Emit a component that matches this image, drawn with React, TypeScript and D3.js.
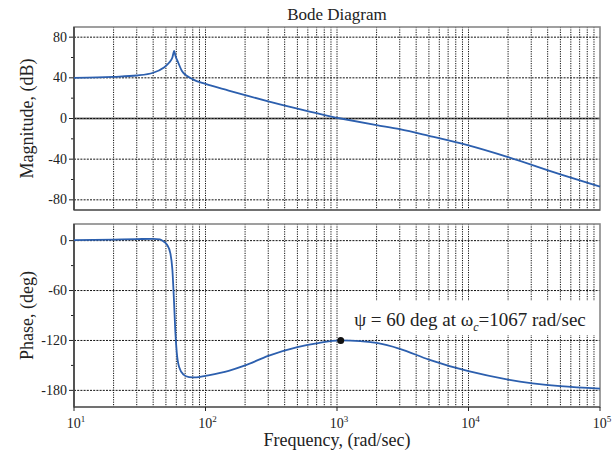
import React from 'react';
import * as d3 from 'd3';

// magnitude curve
const magFreq = [10, 15, 20, 30, 40, 48, 53, 56, 57.8, 59, 62, 66, 72, 80, 100, 150, 200, 300, 500, 700, 1000, 1067, 2000, 3000, 5000, 10000, 20000, 50000, 100000];
const magDb = [40, 40.4, 41, 42.3, 45, 50, 55, 60, 66.5, 62, 55, 47, 42, 38.5, 34, 27.5, 23, 16.8, 9.6, 5.3, 0.7, 0, -6.5, -10.5, -17, -26.5, -38, -55, -67];

// phase curve
const phaseFreq = [10, 20, 30, 40, 45, 48, 51, 54, 56, 57.5, 59, 60.5, 63, 68, 75, 85, 100, 150, 200, 300, 500, 700, 1067, 1500, 2000, 3000, 5000, 10000, 20000, 50000, 100000];
const phaseDeg = [0.5, 1.2, 1.8, 2.2, 1.5, -1, -5, -15, -35, -70, -110, -135, -152, -161, -164, -164.5, -162.5, -156.5, -150, -138.5, -128, -123.5, -120, -120.7, -123, -130, -143, -157, -167, -175, -178];

const magTicks = [80, 40, 0, -40, -80];
const magMinor = [60, 20, -20, -60];
const phaseTicks = [0, -60, -120, -180];
const phaseMinor = [-30, -90, -150];
const decadeExp = [1, 2, 3, 4, 5];

const crossFreq = 1067;
const crossPhase = -120;

const W = 616, H = 452;
const left = 74, right = 600;
const magTop = 27, magBottom = 210;
const phTop = 224, phBottom = 407;
const font = '"Liberation Serif", "Times New Roman", serif';
const blue = '#2c5fae';

const App = () => {
  const x = d3.scaleLog().domain([10, 1e5]).range([left, right]);
  const yMag = d3.scaleLinear().domain([-90, 90]).range([magBottom, magTop]);
  const yPh = d3.scaleLinear().domain([-200, 20]).range([phBottom, phTop]);

  const gridX: number[] = [];
  for (let k = 1; k <= 4; k++) {
    for (let m = 1; m <= 9; m++) {
      const f = m * Math.pow(10, k);
      if (f > 10) gridX.push(f);
    }
  }

  const magLine = d3.line<number>()
    .x((_, i) => x(magFreq[i]))
    .y(d => yMag(d))
    .curve(d3.curveMonotoneX);
  const phLine = d3.line<number>()
    .x((_, i) => x(phaseFreq[i]))
    .y(d => yPh(d))
    .curve(d3.curveMonotoneX);

  const txt = { fontFamily: font, fill: '#222' };

  const panel = (top: number, bottom: number, y: any, ticks: number[], minor: number[], zeroSolid: boolean) => (
    <g>
      {gridX.map(f => (
        <line key={'v' + f} x1={x(f)} x2={x(f)} y1={top} y2={bottom}
          stroke="#111" strokeWidth={1} strokeDasharray="1.2,1.2" />
      ))}
      {zeroSolid && <line x1={left} x2={right} y1={y(0)} y2={y(0)} stroke="#777" strokeWidth={1.8} />}
      {ticks.map(t => (
        <line key={'h' + t} x1={left} x2={right} y1={y(t)} y2={y(t)}
          stroke="#111" strokeWidth={1} strokeDasharray="2,1.2" />
      ))}
      {ticks.map(t => (
        <g key={'t' + t}>
          <line x1={left - 5} x2={left} y1={y(t)} y2={y(t)} stroke="#222" />
          <text x={left - 7} y={y(t) + 4.5} textAnchor="end" fontSize={14} style={txt}>{t}</text>
        </g>
      ))}
      {minor.map(t => (
        <line key={'m' + t} x1={left - 3} x2={left} y1={y(t)} y2={y(t)} stroke="#222" />
      ))}
      <rect x={left} y={top} width={right - left} height={bottom - top} fill="none" stroke="#888" strokeWidth={1.6} />
      <line x1={left} x2={left} y1={top} y2={bottom} stroke="#222" strokeWidth={1.2} />
      <line x1={left} x2={right} y1={bottom} y2={bottom} stroke="#444" strokeWidth={1.2} />
    </g>
  );

  return (
    <svg width={W} height={H} style={{ position: 'absolute', left: 0, top: 0, background: '#fff' }}>
      <rect width={W} height={H} fill="#fff" />
      <text x={337} y={20} textAnchor="middle" fontSize={17} style={txt}>Bode Diagram</text>

      {panel(magTop, magBottom, yMag, magTicks, magMinor, true)}
      {panel(phTop, phBottom, yPh, phaseTicks, phaseMinor, false)}

      {/* x ticks on bottom panel */}
      {decadeExp.map(e => (
        <g key={'x' + e}>
          <line x1={x(Math.pow(10, e))} x2={x(Math.pow(10, e))} y1={phBottom} y2={phBottom + 4} stroke="#222" />
          <text x={x(Math.pow(10, e)) + 2} y={428} textAnchor="middle" fontSize={14} style={txt}>
            10<tspan fontSize={9} dy={-6}>{e}</tspan>
          </text>
        </g>
      ))}

      <path d={magLine(magDb) || ''} fill="none" stroke={blue} strokeWidth={1.8} />
      <path d={phLine(phaseDeg) || ''} fill="none" stroke={blue} strokeWidth={1.8} />

      {/* annotation */}
      <rect x={340} y={301} width={258} height={34} fill="#fff" />
      <text x={470} y={326} textAnchor="middle" fontSize={19} style={txt}>
        ψ = 60 deg at ω<tspan fontSize={12} fontStyle="italic" dy={5}>c</tspan><tspan dy={-5}>=1067 rad/sec</tspan>
      </text>
      <circle cx={x(crossFreq)} cy={yPh(crossPhase)} r={3.5} fill="#111" />

      <text transform={`translate(33,${(magTop + magBottom) / 2}) rotate(-90)`} textAnchor="middle" fontSize={18} style={txt}>Magnitude, (dB)</text>
      <text transform={`translate(33,${(phTop + phBottom) / 2}) rotate(-90)`} textAnchor="middle" fontSize={18} style={txt}>Phase, (deg)</text>
      <text x={337} y={446} textAnchor="middle" fontSize={18} style={txt}>Frequency, (rad/sec)</text>
    </svg>
  );
};

export default App;
